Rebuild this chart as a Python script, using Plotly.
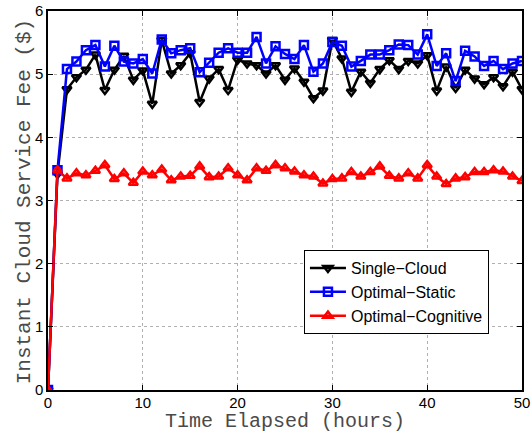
import plotly.graph_objects as go

hours = list(range(0, 51))

single_cloud = [0, 3.42, 4.76, 4.95, 5.07, 5.31, 4.75, 5.07, 5.29, 4.91, 5.06,
                4.53, 5.54, 5.01, 5.14, 5.33, 4.56, 4.93, 5.08, 4.75, 5.23,
                5.17, 5.14, 5.01, 5.14, 4.91, 5.09, 4.88, 4.62, 4.74, 5.54,
                5.25, 4.72, 5.04, 4.86, 5.08, 5.22, 5.08, 5.21, 5.17, 5.30,
                4.74, 5.12, 4.78, 5.07, 4.93, 4.84, 4.95, 4.81, 5.04, 4.76]

optimal_static = [0, 3.48, 5.08, 5.20, 5.38, 5.46, 5.12, 5.45, 5.20, 5.17, 5.24,
                  5.01, 5.55, 5.33, 5.38, 5.41, 5.03, 5.18, 5.34, 5.41, 5.34,
                  5.34, 5.59, 5.17, 5.44, 5.32, 5.24, 5.46, 5.04, 5.17, 5.51,
                  5.45, 5.12, 5.21, 5.31, 5.31, 5.38, 5.47, 5.46, 5.31, 5.63,
                  5.13, 5.33, 4.89, 5.37, 5.28, 5.13, 5.21, 5.08, 5.17, 5.21]

optimal_cognitive = [0, 3.48, 3.35, 3.43, 3.40, 3.47, 3.56, 3.34, 3.43, 3.28, 3.46,
                     3.40, 3.49, 3.32, 3.38, 3.39, 3.54, 3.37, 3.38, 3.51, 3.40,
                     3.32, 3.51, 3.47, 3.56, 3.51, 3.46, 3.40, 3.38, 3.27, 3.34,
                     3.35, 3.45, 3.38, 3.45, 3.54, 3.39, 3.35, 3.43, 3.35, 3.56,
                     3.38, 3.26, 3.35, 3.37, 3.45, 3.45, 3.48, 3.46, 3.38, 3.31]

series = [
    ("Single\u2212Cloud", single_cloud, "#000000", "triangle-down-open"),
    ("Optimal\u2212Static", optimal_static, "#0000ff", "square-open"),
    ("Optimal\u2212Cognitive", optimal_cognitive, "#ff0000", "triangle-up-open"),
]

x_title = "Time Elapsed (hours)"
y_title = "Instant Cloud Service Fee ($)"

fig = go.Figure()
for name, vals, color, sym in series:
    fig.add_trace(go.Scatter(
        x=hours, y=vals, name=name, mode="lines+markers",
        line=dict(color=color, width=2.5),
        marker=dict(symbol=sym, size=8, color=color, line=dict(color=color, width=2.5)),
    ))

axis_common = dict(
    showline=True, linecolor="black", linewidth=1.5, mirror="ticks",
    ticks="inside", ticklen=5, tickcolor="black", tickwidth=1,
    showgrid=True, gridcolor="#b0b0b0", griddash="dot", gridwidth=1,
    zeroline=False,
    tickfont=dict(family="Liberation Sans, Arial", size=15, color="black"),
)

title_font_x = dict(family="Liberation Mono, Courier New", size=20, color="#4a4a4a")
title_font_y = dict(family="Liberation Mono, Courier New", size=21, color="#4a4a4a")

fig.update_xaxes(range=[0, 50], tickvals=[0, 10, 20, 30, 40, 50],
                 ticklabelstandoff=-2, **axis_common)
fig.update_yaxes(range=[0, 6], tickvals=[0, 1, 2, 3, 4, 5, 6], **axis_common)

fig.add_annotation(text=x_title, xref="paper", yref="paper", x=0.5, y=-0.082,
                   xanchor="center", yanchor="middle", showarrow=False, font=title_font_x)
fig.add_annotation(text=y_title, xref="paper", yref="paper", x=-0.05, y=0.496,
                   xanchor="center", yanchor="middle", textangle=-90,
                   showarrow=False, font=title_font_y)

fig.update_layout(
    width=532, height=433,
    margin=dict(l=48, r=10, t=11, b=43, autoexpand=False),
    plot_bgcolor="white", paper_bgcolor="white",
    legend=dict(x=0.54, y=0.369, xanchor="left", yanchor="top",
                bgcolor="white", bordercolor="black", borderwidth=1,
                font=dict(family="Liberation Sans, Arial", size=16, color="black"),
                tracegroupgap=0, itemwidth=36),
    showlegend=True,
)

fig.write_html("out.html")
